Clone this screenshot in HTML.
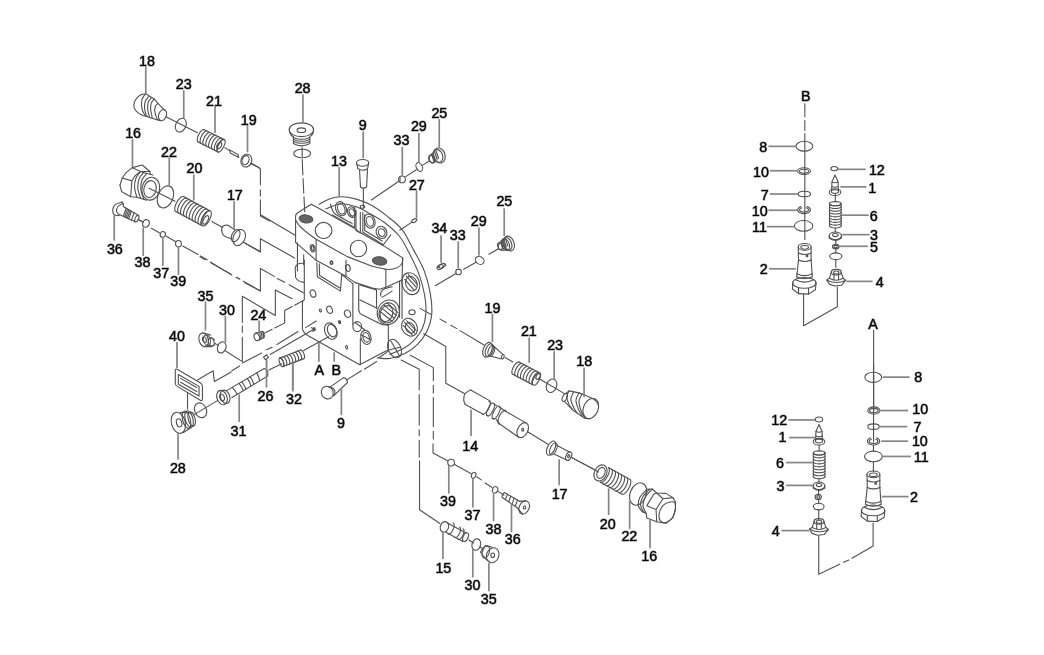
<!DOCTYPE html>
<html><head><meta charset="utf-8"><title>Exploded view</title>
<style>
html,body{margin:0;padding:0;background:#fff;overflow:hidden}
svg{display:block}
.d{fill:none;stroke:#505050;stroke-width:1.1;stroke-linecap:round;stroke-linejoin:round}
.l{fill:none;stroke:#858585;stroke-width:1.7;stroke-linecap:butt}
.t{font-family:"Liberation Sans",sans-serif;font-size:14.3px;fill:#000;stroke:#000;stroke-opacity:0.5;stroke-width:1.1;stroke-linejoin:round;text-anchor:middle}
</style></head>
<body>
<svg width="1044" height="655" viewBox="0 0 1044 655">
<defs><filter id="n" x="0" y="0" width="1044" height="655" filterUnits="userSpaceOnUse"><feGaussianBlur stdDeviation="0.3"/></filter></defs>
<rect width="1044" height="655" fill="#fff"/>
<g class="d">
<path d="M 145.69 93.81 C 144.79 94.0 141.99 94.0 140.33 94.96 C 138.66 95.92 136.82 97.9 135.73 99.56 C 134.64 101.22 133.94 103.26 133.81 104.92 C 133.68 106.59 134.13 108.12 134.96 109.52 C 135.79 110.92 137.39 112.33 138.79 113.35 C 140.2 114.37 142.24 115.21 143.39 115.65 C 144.54 116.1 145.31 115.97 145.69 116.03"/>
<path d="M 145.69 93.81 C 145.11 94.64 142.95 96.94 142.24 98.79 C 141.54 100.65 141.34 102.75 141.48 104.92 C 141.61 107.09 142.3 109.97 143.01 111.82 C 143.71 113.67 145.25 115.33 145.69 116.03"/>
<path d="M 145.69 93.81 L 154.5 99.18 L 157.95 103.39 L 164.85 110.29 M 145.69 116.03 L 151.82 118.33 L 160.25 120.63"/>
<path d="M 154.5 99.18 C 153.99 99.75 152.07 100.9 151.44 102.62 C 150.8 104.35 150.61 107.35 150.67 109.52 C 150.73 111.69 151.57 114.18 151.82 115.65 C 152.07 117.12 152.14 117.89 152.2 118.33"/>
<path d="M 148.75 96.49 C 148.18 97.26 146.01 99.18 145.31 101.09 C 144.6 103.01 144.41 105.69 144.54 107.99 C 144.67 110.29 145.63 113.45 146.07 114.89 C 146.52 116.32 147.03 116.29 147.22 116.57"/>
<path d="M 151.44 97.64 C 150.92 98.35 149.01 100.0 148.37 101.86 C 147.74 103.71 147.48 106.46 147.61 108.75 C 147.74 111.05 148.75 114.18 149.14 115.65 C 149.52 117.12 149.77 117.25 149.9 117.57"/>
<path d="M 157.95 103.39 C 157.51 103.9 155.78 105.05 155.27 106.46 C 154.75 107.86 154.69 110.03 154.89 111.82 C 155.08 113.61 155.97 115.84 156.42 117.18 C 156.86 118.52 157.38 119.42 157.57 119.87"/>
<ellipse cx="162.55" cy="115.11" rx="3.83" ry="5.75" transform="rotate(20 162.55 115.11)"/>
<path d="M 165.98 116.72 L 197.39 132.66"/>
<ellipse cx="180.84" cy="125.15" rx="5.06" ry="7.2" transform="rotate(25 180.84 125.15)"/>
<path d="M 119.96 185.27 L 122.26 177.99 L 126.09 172.62 L 132.22 167.64 L 142.18 164.96 L 149.85 171.48 L 150.23 174.16"/>
<path d="M 119.96 185.27 L 121.49 191.02 L 123.03 192.55 L 130.69 196.76 L 136.82 197.3 L 146.78 200.21"/>
<path d="M 122.26 177.99 L 131.84 180.9 L 130.69 196.76 M 131.84 180.9 Q 135.29 174.16 140.65 171.48 L 132.22 167.64 M 140.65 171.48 L 149.85 171.48"/>
<path d="M 140.65 171.48 C 139.89 172.56 137.07 175.37 136.05 177.99 C 135.03 180.61 134.39 183.99 134.52 187.18 C 134.65 190.38 136.44 195.48 136.82 197.15"/>
<path d="M 143.72 172.24 C 142.95 173.33 140.11 176.13 139.12 178.75 C 138.12 181.38 137.49 184.69 137.74 187.95 C 137.99 191.21 140.17 196.57 140.65 198.3"/>
<path d="M 146.78 173.39 C 146.02 174.41 143.18 176.97 142.18 179.52 C 141.19 182.07 140.55 185.42 140.8 188.72 C 141.06 192.01 143.23 197.53 143.72 199.29"/>
<path d="M 142.18 172.24 L 152.91 175.08"/>
<ellipse cx="150.77" cy="188.72" rx="8.81" ry="11.49" transform="rotate(12 150.77 188.72)"/>
<ellipse cx="150.0" cy="189.1" rx="6.13" ry="8.58" transform="rotate(12 150.0 189.1)"/>
<path d="M 149.04 188.2 L 175.1 201.23"/>
<ellipse cx="165.44" cy="196.93" rx="7.66" ry="11.49" transform="rotate(22 165.44 196.93)"/>
<path d="M 175.68 211.4 L 174.96 210.54 L 174.7 209.04 L 174.94 207.05 L 175.63 204.75 L 176.74 202.38 L 178.11 200.17 L 179.65 198.33 L 181.2 197.04 L 182.59 196.44 L 183.71 196.57"/>
<path d="M 178.57 212.97 L 177.85 212.11 L 177.59 210.61 L 177.82 208.61 L 178.53 206.31 L 179.62 203.95 L 181.01 201.73 L 182.54 199.89 L 184.09 198.61 L 185.49 198.01 L 186.61 198.15"/>
<path d="M 181.47 214.53 L 180.75 213.67 L 180.49 212.17 L 180.72 210.18 L 181.43 207.88 L 182.51 205.52 L 183.91 203.3 L 185.44 201.46 L 186.99 200.18 L 188.38 199.57 L 189.5 199.71"/>
<path d="M 184.37 216.09 L 183.65 215.23 L 183.39 213.73 L 183.62 211.74 L 184.32 209.46 L 185.41 207.08 L 186.8 204.87 L 188.34 203.03 L 189.89 201.75 L 191.28 201.13 L 192.38 201.27"/>
<path d="M 187.26 217.67 L 186.54 216.81 L 186.28 215.31 L 186.51 213.3 L 187.22 211.02 L 188.31 208.64 L 189.69 206.44 L 191.23 204.6 L 192.78 203.31 L 194.18 202.7 L 195.28 202.84"/>
<path d="M 190.16 219.23 L 189.44 218.38 L 189.18 216.87 L 189.41 214.88 L 190.11 212.58 L 191.2 210.21 L 192.58 208.0 L 194.13 206.16 L 195.66 204.87 L 197.07 204.28 L 198.18 204.4"/>
<path d="M 193.06 220.8 L 192.34 219.94 L 192.08 218.44 L 192.31 216.44 L 193.0 214.15 L 194.1 211.79 L 195.48 209.56 L 197.03 207.72 L 198.56 206.44 L 199.97 205.84 L 201.07 205.98"/>
<path d="M 195.94 222.36 L 195.22 221.5 L 194.97 220.0 L 195.2 218.01 L 195.89 215.71 L 197.0 213.35 L 198.38 211.13 L 199.92 209.3 L 201.46 208.02 L 202.85 207.4 L 203.97 207.54"/>
<path d="M 198.84 223.92 L 198.11 223.07 L 197.87 221.58 L 198.1 219.57 L 198.79 217.29 L 199.89 214.91 L 201.27 212.7 L 202.8 210.87 L 204.35 209.58 L 205.75 208.97 L 206.87 209.1"/>
<path d="M 201.73 225.5 L 201.01 224.64 L 200.75 223.14 L 201.0 221.15 L 201.69 218.85 L 202.79 216.48 L 204.17 214.27 L 205.7 212.43 L 207.25 211.14 L 208.64 210.54 L 209.76 210.67"/>
<path d="M 175.68 211.4 L 201.74 225.5"/>
<path d="M 183.71 196.57 L 209.76 210.67"/>
<ellipse cx="206.51" cy="218.39" rx="3.37" ry="8.43" transform="rotate(27 206.51 218.39)"/>
<ellipse cx="205.75" cy="219.92" rx="2.15" ry="4.6" transform="rotate(27 205.75 219.92)"/>
<path d="M 198.07 141.95 L 197.46 141.27 L 197.21 140.05 L 197.33 138.41 L 197.85 136.52 L 198.68 134.56 L 199.75 132.7 L 200.97 131.16 L 202.19 130.07 L 203.33 129.53 L 204.23 129.62"/>
<path d="M 200.9 143.37 L 200.31 142.7 L 200.05 141.47 L 200.18 139.83 L 200.69 137.95 L 201.53 135.97 L 202.61 134.13 L 203.82 132.58 L 205.04 131.49 L 206.16 130.96 L 207.08 131.03"/>
<path d="M 203.75 144.8 L 203.14 144.12 L 202.9 142.9 L 203.03 141.26 L 203.54 139.37 L 204.37 137.39 L 205.44 135.56 L 206.65 134.01 L 207.89 132.92 L 209.01 132.38 L 209.93 132.46"/>
<path d="M 206.61 146.22 L 205.99 145.53 L 205.75 144.32 L 205.89 142.68 L 206.39 140.78 L 207.22 138.82 L 208.29 136.98 L 209.5 135.43 L 210.73 134.34 L 211.86 133.81 L 212.77 133.89"/>
<path d="M 209.46 147.65 L 208.84 146.96 L 208.58 145.75 L 208.72 144.11 L 209.24 142.21 L 210.07 140.25 L 211.14 138.39 L 212.35 136.86 L 213.58 135.75 L 214.71 135.23 L 215.62 135.31"/>
<path d="M 212.29 149.07 L 211.68 148.38 L 211.43 147.17 L 211.57 145.53 L 212.08 143.63 L 212.92 141.67 L 213.99 139.82 L 215.2 138.28 L 216.43 137.18 L 217.55 136.66 L 218.47 136.74"/>
<path d="M 215.14 150.5 L 214.53 149.81 L 214.28 148.58 L 214.42 146.96 L 214.93 145.06 L 215.75 143.1 L 216.83 141.24 L 218.04 139.69 L 219.26 138.61 L 220.4 138.07 L 221.32 138.16"/>
<path d="M 217.99 151.91 L 217.38 151.23 L 217.13 150.01 L 217.26 148.37 L 217.78 146.48 L 218.61 144.52 L 219.68 142.67 L 220.89 141.12 L 222.11 140.03 L 223.25 139.49 L 224.15 139.59"/>
<path d="M 198.07 141.95 L 217.99 151.92"/>
<path d="M 204.23 129.62 L 224.16 139.58"/>
<ellipse cx="221.07" cy="145.75" rx="2.76" ry="6.9" transform="rotate(27 221.07 145.75)"/>
<ellipse cx="219.23" cy="145.44" rx="2.15" ry="3.37" transform="rotate(27 219.23 145.44)"/>
<path d="M 229.5 149.89 L 237.93 154.48 L 238.7 157.55 L 230.27 152.95 Z"/>
<path d="M 224.9 147.59 L 229.5 150.65"/>
<ellipse cx="246.36" cy="160.61" rx="5.36" ry="6.44" transform="rotate(20 246.36 160.61)"/>
<ellipse cx="245.59" cy="160.15" rx="3.37" ry="4.6" transform="rotate(20 245.59 160.15)"/>
<path d="M 250.96 163.68 L 260.0 168.28"/>
<path d="M 121.86 201.9 C 120.71 202.41 116.49 203.56 114.96 204.96 C 113.43 206.36 112.79 208.73 112.66 210.33 C 112.53 211.92 113.3 213.64 114.2 214.54 C 115.09 215.44 117.39 215.5 118.03 215.69"/>
<path d="M 123.01 203.43 C 122.18 203.94 119.11 205.21 118.03 206.49 C 116.94 207.77 116.3 209.62 116.49 211.09 C 116.69 212.56 118.73 214.6 119.18 215.31"/>
<path d="M 121.86 201.9 Q 123.77 202.66 123.24 206.49 L 138.33 215.31 M 118.03 215.69 L 119.18 214.54 L 135.27 221.82"/>
<ellipse cx="136.8" cy="218.6" rx="1.69" ry="3.45" transform="rotate(25 136.8 218.6)"/>
<path d="M 126.07 208.18 L 123.39 216.46 M 128.75 209.71 L 126.07 217.68 M 131.44 211.25 L 128.75 218.91 M 134.12 212.78 L 131.44 220.13 M 127.38 208.95 L 124.77 217.07 M 130.13 210.48 L 127.38 218.3"/>
<path d="M 138.33 219.52 L 143.31 222.2"/>
<ellipse cx="145.98" cy="223.45" rx="3.22" ry="3.83" transform="rotate(20 145.98 223.45)"/>
<ellipse cx="162.84" cy="234.48" rx="2.61" ry="2.91" transform="rotate(20 162.84 234.48)"/>
<ellipse cx="178.47" cy="243.68" rx="2.91" ry="3.22"/>
<path d="M 138.31 219.62 L 142.15 221.76 M 151.34 228.35 L 159.77 232.95 M 165.9 236.02 L 175.86 241.69 M 182.76 245.98 L 198.08 254.41 M 200.38 255.94 L 207.28 259.77 M 210.34 262.07 L 231.8 275.1 M 236.4 277.39 L 239.46 278.93 M 243.3 281.23 L 260.0 290.73"/>
<path d="M 211.88 221.46 L 222.61 227.59"/>
<path d="M 222.61 226.82 Q 224.14 224.52 227.97 225.29 L 234.87 229.89 M 221.84 230.65 Q 221.84 234.48 225.67 236.78 L 231.8 239.08"/>
<path d="M 222.61 226.82 Q 221.07 229.12 221.84 230.65"/>
<ellipse cx="239.16" cy="237.55" rx="5.82" ry="8.43" transform="rotate(25 239.16 237.55)"/>
<ellipse cx="235.63" cy="235.56" rx="3.83" ry="6.44" transform="rotate(25 235.63 235.56)"/>
<path d="M 244.83 242.91 L 260.0 251.34"/>
<ellipse cx="301.38" cy="129.73" rx="12.26" ry="6.9"/>
<ellipse cx="301.38" cy="130.19" rx="4.29" ry="2.3"/>
<path d="M 289.89 132.03 Q 290.65 135.86 293.41 136.63 L 293.41 143.52 Q 301.38 148.12 309.81 143.52 L 309.81 136.63 Q 312.87 135.1 313.33 131.72"/>
<path d="M 293.41 137.39 Q 301.38 141.23 309.81 137.39 M 293.41 139.39 Q 301.38 143.22 309.81 139.39 M 293.41 141.38 Q 301.38 145.21 309.81 141.38"/>
<ellipse cx="302.15" cy="153.49" rx="8.43" ry="4.29"/>
<ellipse cx="362.61" cy="162.84" rx="6.13" ry="3.37"/>
<path d="M 356.48 163.14 L 358.01 168.66 M 368.74 163.14 L 367.51 168.66"/>
<path d="M 358.01 168.66 Q 362.61 171.72 367.51 168.66 M 359.54 169.73 L 360.46 187.05 M 367.51 169.73 L 366.59 187.05 M 360.46 187.05 Q 363.37 189.2 366.59 187.05"/>
<path d="M 363.37 188.89 L 363.37 207.28"/>
<ellipse cx="401.99" cy="179.39" rx="3.37" ry="3.37"/>
<path d="M 400.0 177.39 L 400.0 181.23"/>
<ellipse cx="419.31" cy="166.97" rx="3.07" ry="4.6" transform="rotate(-25 419.31 166.97)"/>
<ellipse cx="439.23" cy="155.48" rx="5.82" ry="7.66" transform="rotate(-20 439.23 155.48)"/>
<ellipse cx="438.01" cy="155.94" rx="4.6" ry="6.44" transform="rotate(-20 438.01 155.94)"/>
<path d="M 434.18 152.11 L 430.34 155.17 Q 428.05 158.24 429.58 161.3 L 432.64 163.14 L 436.48 161.3"/>
<ellipse cx="431.57" cy="159.0" rx="2.45" ry="3.98" transform="rotate(-20 431.57 159.0)"/>
<path d="M 433.1 152.87 L 435.25 160.08 M 434.64 151.8 L 437.09 159.46 M 436.02 151.03 L 438.62 158.54 M 431.57 153.95 L 433.72 161.0"/>
<path d="M 371.34 199.92 L 398.47 181.53 M 405.82 176.63 L 416.25 169.73 M 422.68 165.13 L 429.58 160.84"/>
<ellipse cx="414.25" cy="220.61" rx="2.76" ry="1.53" transform="rotate(-30 414.25 220.61)"/>
<path d="M 411.95 222.15 L 399.69 230.27"/>
<path d="M 295.58 242.3 L 295.58 216.15 Q 295.58 214.28 297.45 213.04 L 311.15 204.32 L 317.38 207.43 L 354.73 228.6 L 359.71 232.34 L 383.37 245.66 L 402.67 257.86"/>
<path d="M 402.67 257.86 Q 403.54 264.71 397.07 267.83 Q 390.84 270.32 384.62 269.07"/>
<path d="M 295.96 220.51 Q 298.7 227.36 316.13 239.19 L 347.26 256.62 L 372.16 266.21 L 384.62 269.07"/>
<ellipse cx="323.6" cy="230.47" rx="8.34" ry="8.09"/>
<ellipse cx="358.47" cy="248.52" rx="8.22" ry="8.22"/>
<ellipse cx="305.92" cy="218.89" rx="6.85" ry="3.98" fill="#666" transform="rotate(8 305.92 218.89)"/>
<ellipse cx="379.64" cy="260.98" rx="7.22" ry="4.11" fill="#666" transform="rotate(8 379.64 260.98)"/>
<path d="M 319.06 204.34 C 320.68 203.49 325.16 200.44 328.83 199.15 C 332.49 197.87 336.46 196.71 341.03 196.71 C 345.61 196.71 351.19 197.72 356.29 199.15 C 361.39 200.59 366.45 202.45 371.55 205.26 C 376.65 208.07 381.71 211.88 386.81 215.94 C 391.9 220.0 397.58 223.96 402.07 229.67 C 406.55 235.38 409.94 243.19 413.66 250.12 C 417.38 257.04 421.54 263.79 424.34 271.17 C 427.15 278.56 429.23 287.04 430.45 294.37 C 431.67 301.69 432.22 309.01 431.67 315.12 C 431.12 321.22 429.47 326.04 427.09 330.99 C 424.71 335.93 421.05 340.96 417.32 344.72 C 413.6 348.47 409.39 351.28 404.81 353.57 C 400.23 355.86 394.44 357.75 389.86 358.45 C 385.28 359.15 379.42 357.93 377.35 357.84"/>
<path d="M 325.77 208.92 C 328.31 208.07 335.94 204.1 341.03 203.73 C 346.13 203.37 351.71 205.26 356.29 206.78 C 360.87 208.31 363.92 210.35 368.5 212.89 C 373.08 215.42 378.66 218.23 383.76 222.04 C 388.85 225.86 394.68 230.43 399.01 235.77 C 403.35 241.12 406.4 247.74 409.69 254.08 C 412.99 260.43 416.35 267.05 418.85 273.92 C 421.35 280.79 423.49 288.66 424.65 295.28 C 425.81 301.9 426.27 308.01 425.87 313.59 C 425.47 319.18 424.4 324.18 422.21 328.85 C 420.01 333.52 416.1 338.25 412.75 341.67 C 409.39 345.08 405.88 347.22 402.07 349.3 C 398.25 351.37 391.9 353.35 389.86 354.18"/>
<path d="M 332.32 214.9 L 354.73 227.36 L 354.73 206.81"/>
<path d="M 330.45 204.32 C 330.97 205.66 332.01 210.33 333.56 212.41 C 335.12 214.49 336.68 214.9 339.79 216.77 C 342.9 218.64 350.16 222.48 352.24 223.62"/>
<ellipse cx="341.03" cy="208.68" rx="5.23" ry="7.22" transform="rotate(-20 341.03 208.68)"/>
<ellipse cx="341.28" cy="208.93" rx="3.49" ry="5.23" transform="rotate(-20 341.28 208.93)"/>
<ellipse cx="351.62" cy="212.16" rx="3.98" ry="5.48" transform="rotate(-20 351.62 212.16)"/>
<ellipse cx="351.87" cy="212.41" rx="2.49" ry="3.74" transform="rotate(-20 351.87 212.41)"/>
<path d="M 355.98 210.55 L 355.98 230.47 L 360.34 232.96 L 360.34 212.41"/>
<path d="M 362.83 212.41 L 362.83 232.34 L 383.37 244.79 L 390.84 234.83"/>
<path d="M 364.69 214.9 L 364.69 230.47 L 382.13 241.05"/>
<ellipse cx="369.67" cy="221.13" rx="5.23" ry="7.22" transform="rotate(-20 369.67 221.13)"/>
<ellipse cx="369.92" cy="221.38" rx="3.49" ry="4.98" transform="rotate(-20 369.92 221.38)"/>
<ellipse cx="381.5" cy="232.34" rx="5.23" ry="6.23" transform="rotate(-20 381.5 232.34)"/>
<ellipse cx="381.75" cy="232.59" rx="3.24" ry="3.98" transform="rotate(-20 381.75 232.59)"/>
<ellipse cx="362.45" cy="206.81" rx="2.24" ry="1.49"/>
<path d="M 295.58 242.3 L 316.13 260.35 L 346.02 276.17 L 354.73 282.39 L 372.16 288.0 L 379.64 289.24 L 387.11 286.75 L 402.05 279.9"/>
<path d="M 316.13 239.19 L 316.13 260.35 M 385.86 269.32 L 385.86 286.75 M 402.67 257.86 L 402.05 279.9"/>
<ellipse cx="312.64" cy="248.28" rx="2.24" ry="3.74" transform="rotate(-15 312.64 248.28)"/>
<ellipse cx="312.64" cy="248.28" rx="1.12" ry="2.24" transform="rotate(-15 312.64 248.28)"/>
<path d="M 297.45 242.92 L 297.45 270.94 M 303.68 254.75 L 303.68 264.71"/>
<ellipse cx="331.32" cy="262.84" rx="1.25" ry="1.74" transform="rotate(-15 331.32 262.84)"/>
<path d="M 304.3 263.74 Q 297.45 261.87 295.21 267.47 L 295.58 277.43 Q 298.7 282.16 304.3 282.41"/>
<path d="M 304.3 260.0 L 304.3 299.85 L 302.43 301.71 L 302.43 328.61 Q 303.06 332.84 308.66 336.08 L 359.71 364.72 L 388.35 349.78"/>
<path d="M 297.45 260.0 L 297.45 262.49"/>
<path d="M 316.75 262.49 L 317.38 276.81 L 340.41 291.13 L 341.66 274.69"/>
<path d="M 319.24 263.74 L 319.62 275.57 L 339.79 288.02"/>
<ellipse cx="313.02" cy="293.62" rx="2.74" ry="3.74" transform="rotate(-20 313.02 293.62)"/>
<ellipse cx="329.58" cy="309.81" rx="2.74" ry="3.74" transform="rotate(-20 329.58 309.81)"/>
<ellipse cx="347.51" cy="313.79" rx="2.99" ry="3.74" transform="rotate(-20 347.51 313.79)"/>
<ellipse cx="320.49" cy="310.43" rx="1.0" ry="1.49" transform="rotate(-20 320.49 310.43)"/>
<ellipse cx="339.79" cy="322.26" rx="0.87" ry="1.25" transform="rotate(-20 339.79 322.26)"/>
<ellipse cx="314.26" cy="329.11" rx="1.0" ry="1.49" transform="rotate(-20 314.26 329.11)"/>
<ellipse cx="331.7" cy="262.49" rx="1.12" ry="1.62" transform="rotate(-20 331.7 262.49)"/>
<ellipse cx="347.88" cy="268.09" rx="2.24" ry="3.49" transform="rotate(-15 347.88 268.09)"/>
<ellipse cx="330.82" cy="331.1" rx="5.98" ry="8.47" transform="rotate(-22 330.82 331.1)"/>
<ellipse cx="332.07" cy="330.6" rx="4.36" ry="6.48" transform="rotate(-22 332.07 330.6)"/>
<ellipse cx="339.42" cy="322.01" rx="0.87" ry="1.25" transform="rotate(-20 339.42 322.01)"/>
<ellipse cx="346.64" cy="347.29" rx="1.0" ry="1.74" transform="rotate(-20 346.64 347.29)"/>
<path d="M 352.86 283.66 L 352.86 324.75 M 358.72 284.9 L 358.72 309.81 Q 359.09 313.54 362.2 314.79 L 377.15 322.26"/>
<path d="M 346.02 260.0 L 346.02 276.19 M 341.66 274.69 L 352.86 283.66"/>
<path d="M 359.71 284.9 L 376.52 289.89 L 376.52 308.56 M 359.71 299.85 L 376.52 307.94"/>
<path d="M 360.34 338.57 L 360.34 364.72 M 388.35 324.75 L 388.35 349.78"/>
<ellipse cx="388.35" cy="312.3" rx="10.96" ry="12.45" transform="rotate(20 388.35 312.3)"/>
<ellipse cx="387.73" cy="312.92" rx="8.47" ry="10.21" transform="rotate(20 387.73 312.92)"/>
<ellipse cx="386.48" cy="313.54" rx="6.23" ry="8.09" transform="rotate(20 386.48 313.54)"/>
<path d="M 377.15 322.26 Q 383.37 326.0 388.35 324.75"/>
<path d="M 381.5 307.94 L 394.58 318.52 M 383.99 305.08 L 396.45 315.41 M 380.26 311.68 L 392.09 321.26 M 387.11 302.96 L 397.69 312.3"/>
<ellipse cx="410.77" cy="283.66" rx="8.72" ry="11.21" transform="rotate(-20 410.77 283.66)"/>
<ellipse cx="411.39" cy="283.66" rx="5.6" ry="7.47" transform="rotate(-20 411.39 283.66)"/>
<path d="M 402.05 279.92 L 402.05 318.52 M 399.56 281.17 L 399.56 317.28"/>
<path d="M 380.88 296.11 Q 379.64 291.13 384.62 288.64 L 392.09 286.77 M 382.13 297.36 L 392.09 291.13"/>
<ellipse cx="357.22" cy="326.62" rx="4.36" ry="4.98"/>
<path d="M 354.73 322.26 L 364.69 329.73 M 360.96 334.71 L 370.92 339.69"/>
<ellipse cx="365.94" cy="337.33" rx="4.98" ry="7.22" transform="rotate(-15 365.94 337.33)"/>
<ellipse cx="366.19" cy="337.33" rx="3.11" ry="4.98" transform="rotate(-15 366.19 337.33)"/>
<ellipse cx="409.52" cy="327.24" rx="7.47" ry="9.34" transform="rotate(-30 409.52 327.24)"/>
<ellipse cx="410.14" cy="327.86" rx="4.36" ry="5.6" transform="rotate(-30 410.14 327.86)"/>
<path d="M 404.54 322.26 L 414.5 332.84 M 406.78 320.77 L 416.0 330.35 M 403.3 325.37 L 412.01 334.71"/>
<path d="M 406.41 276.19 L 415.75 286.77 M 408.28 274.32 L 417.24 284.28 M 404.79 279.3 L 413.88 289.89"/>
<ellipse cx="412.01" cy="312.3" rx="3.11" ry="2.49"/>
<ellipse cx="394.58" cy="348.53" rx="6.23" ry="9.71" transform="rotate(-25 394.58 348.53)"/>
<path d="M 390.84 341.06 L 399.56 356.01 M 389.6 349.78 L 400.18 347.29"/>
<path d="M 328.58 336.77 L 303.68 350.47"/>
<path d="M 279.86 358.0 L 280.47 358.0 L 281.18 358.43 L 281.92 359.24 L 282.63 360.34 L 283.23 361.64 L 283.66 363.0 L 283.88 364.29 L 283.87 365.39 L 283.62 366.18 L 283.17 366.59"/>
<path d="M 282.81 356.86 L 283.42 356.87 L 284.14 357.29 L 284.89 358.1 L 285.59 359.2 L 286.18 360.49 L 286.62 361.86 L 286.83 363.15 L 286.82 364.25 L 286.57 365.04 L 286.12 365.46"/>
<path d="M 285.76 355.72 L 286.37 355.72 L 287.09 356.16 L 287.84 356.96 L 288.54 358.07 L 289.13 359.36 L 289.57 360.72 L 289.78 362.01 L 289.77 363.11 L 289.53 363.91 L 289.07 364.32"/>
<path d="M 288.71 354.58 L 289.33 354.59 L 290.04 355.01 L 290.79 355.82 L 291.5 356.92 L 292.1 358.21 L 292.52 359.58 L 292.73 360.88 L 292.72 361.98 L 292.48 362.77 L 292.04 363.18"/>
<path d="M 291.66 353.45 L 292.28 353.45 L 292.99 353.88 L 293.74 354.68 L 294.45 355.79 L 295.05 357.08 L 295.47 358.44 L 295.7 359.73 L 295.67 360.83 L 295.43 361.63 L 294.99 362.05"/>
<path d="M 294.63 352.31 L 295.24 352.31 L 295.95 352.74 L 296.69 353.55 L 297.4 354.65 L 298.0 355.95 L 298.42 357.31 L 298.65 358.6 L 298.64 359.7 L 298.39 360.49 L 297.94 360.9"/>
<path d="M 297.58 351.17 L 298.19 351.18 L 298.9 351.6 L 299.64 352.4 L 300.35 353.51 L 300.95 354.8 L 301.37 356.16 L 301.6 357.45 L 301.59 358.55 L 301.34 359.35 L 300.89 359.77"/>
<path d="M 300.53 350.03 L 301.14 350.03 L 301.85 350.46 L 302.59 351.27 L 303.3 352.37 L 303.9 353.67 L 304.33 355.03 L 304.55 356.32 L 304.54 357.42 L 304.29 358.21 L 303.84 358.63"/>
<path d="M 283.17 366.6 L 303.84 358.63"/>
<path d="M 279.86 358.0 L 300.53 350.03"/>
<ellipse cx="281.51" cy="362.3" rx="1.87" ry="4.61" transform="rotate(-21 281.51 362.3)"/>
<path d="M 379.64 357.32 L 388.35 351.09"/>
<ellipse cx="442.15" cy="265.79" rx="3.37" ry="1.99" transform="rotate(-30 442.15 265.79)"/>
<path d="M 439.08 266.55 L 437.55 268.08 M 444.44 263.79 L 445.98 265.33"/>
<ellipse cx="440.15" cy="267.01" rx="3.37" ry="1.99" transform="rotate(-30 440.15 267.01)"/>
<ellipse cx="479.69" cy="260.42" rx="4.6" ry="3.68" transform="rotate(30 479.69 260.42)"/>
<ellipse cx="509.12" cy="243.56" rx="4.9" ry="7.66" transform="rotate(-20 509.12 243.56)"/>
<ellipse cx="507.28" cy="244.02" rx="4.29" ry="6.74" transform="rotate(-20 507.28 244.02)"/>
<ellipse cx="505.44" cy="244.64" rx="3.83" ry="6.13" transform="rotate(-20 505.44 244.64)"/>
<path d="M 504.21 238.97 L 500.38 242.03 Q 497.32 245.1 498.85 248.93 L 501.92 250.46 L 505.75 249.69"/>
<ellipse cx="499.92" cy="246.17" rx="2.15" ry="3.68" transform="rotate(-20 499.92 246.17)"/>
<path d="M 502.38 240.5 L 504.52 247.85 M 503.91 239.58 L 506.36 246.93 M 505.44 238.66 L 507.89 246.02 M 500.84 241.42 L 502.99 248.77"/>
<path d="M 498.08 248.93 L 488.89 254.29 M 476.63 261.95 L 463.6 269.31"/>
<ellipse cx="458.54" cy="271.92" rx="2.76" ry="2.76"/>
<path d="M 455.94 273.45 L 435.25 285.71"/>
<path d="M 251.05 163.04 L 258.52 167.39 L 260.39 169.26 L 260.39 184.83 M 260.39 189.81 L 260.39 196.03 M 260.39 199.77 L 260.39 215.96 L 269.73 220.94"/>
<path d="M 302.11 147.47 L 302.23 156.81 M 302.23 159.55 L 302.85 174.87 M 303.1 178.48 L 303.73 193.3 M 303.98 196.91 L 304.72 211.6"/>
<path d="M 261.02 215.0 L 294.64 234.92"/>
<path d="M 243.58 242.39 L 260.39 252.11 L 260.39 238.66 L 294.64 257.96"/>
<path d="M 200.0 256.71 L 204.98 259.83 M 211.21 262.94 L 231.13 274.15 M 236.11 277.26 L 239.85 279.13 M 244.83 282.86 L 260.39 290.96 L 260.39 268.54 L 274.71 276.64 M 277.2 278.51 L 284.67 282.24 M 289.03 284.73 L 303.35 292.83"/>
<path d="M 225.53 351.02 L 242.34 361.6 M 242.34 361.6 L 242.34 337.32 M 242.34 332.34 L 242.34 326.11 M 242.34 322.38 L 242.34 296.23 L 275.34 315.53 L 275.34 290.0"/>
<path d="M 275.34 290.0 L 292.15 298.72"/>
<path d="M 264.75 332.96 L 272.22 329.22 M 274.71 327.98 L 283.43 323.62 L 284.67 323.0 L 284.67 310.55 L 292.15 306.56 M 294.64 305.19 L 303.35 300.58"/>
<path d="M 231.92 370.77 L 239.58 365.98 M 242.45 363.1 L 261.61 353.05 M 266.4 349.69 L 272.15 347.3 M 276.93 344.43 L 298.01 331.49 M 305.67 327.66 L 316.21 320.96"/>
<path d="M 270.23 354.48 L 314.29 329.1 M 311.42 327.66 L 314.77 329.1 L 312.85 331.49"/>
<path d="M 263.51 357.24 L 266.62 354.75 L 268.49 357.24 L 265.37 359.73 Z"/>
<path d="M 266.62 359.73 L 266.62 372.18"/>
<ellipse cx="203.64" cy="339.73" rx="4.6" ry="6.9" transform="rotate(-15 203.64 339.73)"/>
<ellipse cx="207.01" cy="340.19" rx="3.37" ry="5.36" transform="rotate(-15 207.01 340.19)"/>
<ellipse cx="211.3" cy="342.03" rx="2.76" ry="4.29" transform="rotate(-15 211.3 342.03)"/>
<path d="M 202.87 332.84 L 210.54 335.13 M 203.64 346.63 L 211.3 346.63 M 211.3 337.74 L 214.37 339.73 M 211.3 346.32 L 214.37 345.1"/>
<ellipse cx="204.41" cy="339.73" rx="1.84" ry="3.07" transform="rotate(-15 204.41 339.73)"/>
<path d="M 215.13 343.56 L 218.2 345.4"/>
<ellipse cx="221.72" cy="347.39" rx="4.14" ry="5.82" transform="rotate(20 221.72 347.39)"/>
<ellipse cx="256.82" cy="336.97" rx="2.61" ry="3.83" transform="rotate(-20 256.82 336.97)"/>
<path d="M 255.75 333.14 L 262.64 331.3 Q 264.94 333.6 264.18 337.43 L 258.05 340.5 M 259.58 332.07 L 260.65 339.27 M 261.11 331.61 L 262.18 338.66 M 262.64 331.3 L 263.72 338.05"/>
<path d="M 175.29 370.73 Q 175.29 368.43 177.59 369.5 L 200.57 382.99 Q 202.41 384.21 202.41 386.36 L 202.41 399.08 Q 202.41 401.38 200.27 400.15 L 177.28 386.36 Q 175.29 385.29 175.29 382.99 Z"/>
<path d="M 178.35 374.56 L 199.04 386.36 L 199.04 396.02 L 178.35 384.21 Z"/>
<path d="M 180.65 378.39 L 196.74 387.59 M 180.65 382.22 L 196.74 391.42"/>
<path d="M 197.51 379.92 L 213.14 370.73 L 214.37 381.46 L 231.23 371.95"/>
<path d="M 187.55 392.95 L 187.55 409.04"/>
<ellipse cx="178.35" cy="422.84" rx="6.9" ry="10.73" transform="rotate(-15 178.35 422.84)"/>
<ellipse cx="179.12" cy="422.84" rx="2.61" ry="4.14" transform="rotate(-15 179.12 422.84)"/>
<path d="M 180.65 412.41 L 192.91 412.87 M 182.95 432.8 L 191.38 427.43"/>
<ellipse cx="189.08" cy="419.0" rx="3.83" ry="8.43" transform="rotate(-15 189.08 419.0)"/>
<ellipse cx="191.69" cy="419.0" rx="3.37" ry="7.36" transform="rotate(-15 191.69 419.0)"/>
<ellipse cx="186.48" cy="419.77" rx="3.83" ry="8.89" transform="rotate(-15 186.48 419.77)"/>
<ellipse cx="200.57" cy="410.27" rx="5.82" ry="7.66" transform="rotate(-25 200.57 410.27)"/>
<path d="M 193.68 414.87 L 217.43 400.61"/>
<ellipse cx="222.03" cy="397.55" rx="5.06" ry="7.36" transform="rotate(-20 222.03 397.55)"/>
<ellipse cx="222.03" cy="397.55" rx="2.3" ry="3.37" transform="rotate(-20 222.03 397.55)"/>
<ellipse cx="225.1" cy="396.78" rx="4.6" ry="6.9" transform="rotate(-20 225.1 396.78)"/>
<path d="M 226.63 390.65 L 264.18 368.43 Q 268.77 369.96 267.7 376.09 L 231.99 397.55"/>
<path d="M 232.3 387.28 Q 235.98 391.42 237.2 394.33 M 239.04 383.3 Q 242.41 387.59 243.33 390.65 M 241.65 381.76 Q 245.02 386.05 245.79 389.12 M 247.32 378.39 Q 250.38 382.84 251.0 386.05 M 250.23 376.7 Q 253.3 381.15 253.75 384.37 M 256.67 372.87 Q 259.43 377.47 259.58 380.69"/>
<path d="M 268.77 369.96 L 281.8 363.83"/>
<ellipse cx="327.28" cy="392.61" rx="5.82" ry="6.44" transform="rotate(-30 327.28 392.61)"/>
<path d="M 329.89 387.09 L 343.68 377.59 Q 347.2 378.35 347.51 382.49 L 334.02 395.36"/>
<path d="M 332.95 395.98 Q 336.02 394.44 334.48 390.15 Q 332.95 386.78 329.12 387.24"/>
<path d="M 346.74 379.89 L 361.3 370.69 M 364.37 369.16 L 376.63 361.49"/>
<path d="M 401.15 359.96 L 419.23 369.16 L 419.23 389.85 M 419.23 394.44 L 419.23 425.1 M 419.23 429.69 L 419.23 435.82 M 419.23 440.42 L 419.23 457.28"/>
<path d="M 410.34 355.36 L 433.33 367.62 L 433.33 380.65 M 433.33 385.25 L 433.33 392.91 M 433.33 397.51 L 433.33 426.63 M 433.33 431.23 L 433.33 438.89"/>
<path d="M 420.08 308.39 L 430.8 314.21 M 440.0 319.12 L 446.13 322.49 M 450.73 325.25 L 456.86 328.62 M 459.92 330.61 L 484.44 345.17"/>
<ellipse cx="487.51" cy="349.77" rx="4.29" ry="7.66" transform="rotate(20 487.51 349.77)"/>
<ellipse cx="489.35" cy="350.23" rx="3.68" ry="6.74" transform="rotate(20 489.35 350.23)"/>
<ellipse cx="491.34" cy="350.84" rx="3.07" ry="5.52" transform="rotate(20 491.34 350.84)"/>
<path d="M 492.87 345.48 L 502.84 354.37 M 491.34 356.21 L 501.3 358.97"/>
<ellipse cx="502.84" cy="356.67" rx="1.23" ry="2.3" transform="rotate(20 502.84 356.67)"/>
<path d="M 505.13 357.43 L 512.8 362.03"/>
<path d="M 512.66 374.28 L 512.06 373.57 L 511.85 372.36 L 512.0 370.72 L 512.55 368.84 L 513.43 366.89 L 514.53 365.05 L 515.77 363.53 L 517.01 362.46 L 518.15 361.95 L 519.07 362.05"/>
<path d="M 515.51 375.76 L 514.91 375.07 L 514.68 373.85 L 514.85 372.21 L 515.4 370.32 L 516.26 368.38 L 517.36 366.55 L 518.61 365.02 L 519.86 363.96 L 521.0 363.44 L 521.9 363.53"/>
<path d="M 518.36 377.25 L 517.76 376.56 L 517.53 375.33 L 517.7 373.69 L 518.24 371.81 L 519.11 369.86 L 520.21 368.04 L 521.46 366.51 L 522.7 365.45 L 523.85 364.93 L 524.75 365.03"/>
<path d="M 521.21 378.74 L 520.6 378.05 L 520.38 376.82 L 520.55 375.18 L 521.09 373.3 L 521.96 371.35 L 523.07 369.52 L 524.31 368.01 L 525.55 366.93 L 526.68 366.41 L 527.6 366.52"/>
<path d="M 524.05 380.22 L 523.45 379.53 L 523.22 378.31 L 523.39 376.67 L 523.94 374.78 L 524.8 372.84 L 525.92 371.01 L 527.14 369.49 L 528.4 368.42 L 529.53 367.92 L 530.44 368.01"/>
<path d="M 526.9 381.71 L 526.3 381.02 L 526.07 379.79 L 526.24 378.17 L 526.77 376.28 L 527.65 374.32 L 528.75 372.5 L 529.99 370.98 L 531.25 369.91 L 532.38 369.4 L 533.29 369.49"/>
<path d="M 529.75 383.21 L 529.15 382.51 L 528.92 381.28 L 529.09 379.66 L 529.62 377.77 L 530.5 375.81 L 531.6 373.98 L 532.84 372.47 L 534.08 371.39 L 535.22 370.89 L 536.14 370.98"/>
<path d="M 532.58 384.7 L 531.98 383.99 L 531.77 382.78 L 531.92 381.14 L 532.48 379.26 L 533.35 377.31 L 534.45 375.47 L 535.69 373.95 L 536.93 372.88 L 538.07 372.38 L 538.99 372.47"/>
<path d="M 512.67 374.27 L 532.59 384.69"/>
<path d="M 519.06 362.05 L 538.98 372.47"/>
<ellipse cx="536.55" cy="378.89" rx="2.76" ry="6.9" transform="rotate(27 536.55 378.89)"/>
<ellipse cx="538.08" cy="376.59" rx="1.84" ry="3.07" transform="rotate(27 538.08 376.59)"/>
<ellipse cx="551.57" cy="385.79" rx="5.06" ry="6.9" transform="rotate(20 551.57 385.79)"/>
<path d="M 423.72 333.68 L 445.79 346.55 L 445.79 383.33 L 464.79 393.75"/>
<path d="M 470.61 389.92 L 488.24 399.89 M 465.25 404.48 L 483.64 414.44"/>
<path d="M 470.61 389.92 C 469.66 390.57 466.09 392.1 464.94 393.75 C 463.79 395.41 463.67 398.09 463.72 399.89 C 463.76 401.68 464.99 403.72 465.25 404.48"/>
<path d="M 489.42 400.41 L 489.94 400.9 L 490.26 401.69 L 490.37 402.77 L 490.25 404.07 L 489.91 405.54 L 489.37 407.07 L 488.67 408.64 L 487.82 410.12 L 486.89 411.46 L 485.91 412.59 L 484.93 413.45 L 483.99 414.0 L 483.15 414.21 L 482.46 414.08"/>
<ellipse cx="490.54" cy="409.54" rx="2.61" ry="7.05" transform="rotate(27 490.54 409.54)"/>
<ellipse cx="496.21" cy="412.45" rx="2.61" ry="7.05" transform="rotate(27 496.21 412.45)"/>
<path d="M 488.54 401.11 L 490.84 402.64 M 494.06 404.33 L 496.51 405.56 M 486.4 414.75 L 488.24 415.98 M 492.07 418.12 L 494.06 419.04 M 498.97 406.78 L 505.1 411.07 M 496.21 419.35 L 499.73 423.95"/>
<path d="M 498.86 424.04 L 498.34 423.55 L 498.02 422.75 L 497.91 421.68 L 498.03 420.38 L 498.37 418.9 L 498.9 417.37 L 499.61 415.81 L 500.45 414.32 L 501.39 412.99 L 502.37 411.85 L 503.35 411.0 L 504.28 410.44 L 505.13 410.23 L 505.82 410.37"/>
<path d="M 505.1 411.07 L 525.79 422.87 M 499.73 423.95 L 518.89 437.43"/>
<ellipse cx="522.72" cy="430.08" rx="5.06" ry="7.97" transform="rotate(27 522.72 430.08)"/>
<ellipse cx="522.72" cy="429.77" rx="1.07" ry="1.38"/>
<path d="M 528.08 432.07 L 548.01 444.33"/>
<ellipse cx="551.07" cy="448.16" rx="3.68" ry="7.66" transform="rotate(25 551.07 448.16)"/>
<ellipse cx="553.37" cy="448.93" rx="3.07" ry="6.44" transform="rotate(25 553.37 448.93)"/>
<path d="M 556.13 445.1 L 569.92 452.3 M 554.6 454.14 L 566.86 459.96"/>
<ellipse cx="568.7" cy="456.13" rx="2.61" ry="4.6" transform="rotate(25 568.7 456.13)"/>
<ellipse cx="568.7" cy="456.13" rx="0.92" ry="1.53" transform="rotate(25 568.7 456.13)"/>
<path d="M 571.76 457.36 L 598.58 471.92"/>
<path d="M 538.39 378.31 L 564.44 393.64"/>
<ellipse cx="564.75" cy="397.47" rx="2.15" ry="4.29" transform="rotate(25 564.75 397.47)"/>
<path d="M 565.98 393.33 L 569.04 390.88 L 579.0 392.87 L 584.37 394.87 L 593.56 399.0 Q 597.39 401.3 598.47 405.13"/>
<path d="M 564.44 401.3 L 573.64 410.8 L 584.37 418.16 L 589.73 418.93"/>
<ellipse cx="590.8" cy="408.51" rx="7.36" ry="10.42" transform="rotate(22 590.8 408.51)"/>
<path d="M 569.04 390.88 C 568.66 391.85 566.74 394.45 566.74 396.7 C 566.74 398.96 568.15 402.33 569.04 404.37 C 569.93 406.41 571.6 408.2 572.11 408.97"/>
<path d="M 573.64 391.8 C 573.18 393.0 570.88 396.4 570.88 399.0 C 570.88 401.61 572.54 405.06 573.64 407.43 C 574.74 409.81 576.83 412.29 577.47 413.26"/>
<path d="M 579.0 392.87 C 578.5 394.15 575.94 397.59 575.94 400.54 C 575.94 403.48 577.85 407.82 579.0 410.5 C 580.15 413.18 582.19 415.6 582.84 416.63"/>
<path d="M 582.07 393.95 C 581.56 395.17 579.13 398.42 579.0 401.3 C 578.88 404.18 580.28 408.51 581.3 411.26 C 582.33 414.02 584.49 416.75 585.13 417.85"/>
<ellipse cx="451.11" cy="462.57" rx="3.37" ry="3.37"/>
<ellipse cx="473.64" cy="475.29" rx="2.15" ry="3.07" transform="rotate(20 473.64 475.29)"/>
<ellipse cx="495.1" cy="489.85" rx="2.61" ry="3.37" transform="rotate(20 495.1 489.85)"/>
<path d="M 433.03 443.87 L 433.03 453.07 L 447.59 460.73 M 454.48 464.56 L 471.34 473.75 M 476.7 476.82 L 481.3 479.89 M 485.13 482.95 L 492.03 487.55 M 498.16 491.38 L 503.98 495.21"/>
<path d="M 504.6 492.61 L 519.62 501.34 M 502.76 497.82 L 516.86 507.47"/>
<path d="M 502.51 497.71 L 502.3 497.54 L 502.15 497.23 L 502.07 496.84 L 502.08 496.36 L 502.18 495.82 L 502.33 495.26 L 502.56 494.69 L 502.85 494.15 L 503.19 493.66 L 503.54 493.25 L 503.89 492.93 L 504.25 492.73 L 504.57 492.65 L 504.84 492.71"/>
<path d="M 507.36 494.14 L 505.52 499.35 M 510.73 495.98 L 508.89 501.49 M 514.25 498.12 L 512.26 503.64 M 517.47 500.11 L 515.33 505.79"/>
<ellipse cx="524.21" cy="507.47" rx="4.9" ry="6.9" transform="rotate(25 524.21 507.47)"/>
<ellipse cx="524.52" cy="507.47" rx="1.23" ry="1.53"/>
<path d="M 519.62 501.34 L 525.75 500.88 M 516.86 507.47 L 522.68 514.06"/>
<path d="M 419.54 460.73 L 419.54 509.77 L 439.92 523.56"/>
<ellipse cx="444.44" cy="526.9" rx="4.14" ry="5.36" transform="rotate(20 444.44 526.9)"/>
<path d="M 447.51 523.07 L 465.9 533.03 M 445.98 532.26 L 462.84 541.46"/>
<path d="M 453.16 522.87 L 453.66 523.26 L 453.99 523.92 L 454.16 524.81 L 454.15 525.87 L 453.95 527.07 L 453.59 528.32 L 453.07 529.59 L 452.43 530.8 L 451.71 531.89 L 450.91 532.81 L 450.11 533.5 L 449.32 533.95 L 448.6 534.1 L 447.98 533.99"/>
<path d="M 459.48 526.99 L 459.97 527.37 L 460.31 528.02 L 460.49 528.86 L 460.51 529.89 L 460.34 531.02 L 460.0 532.23 L 459.51 533.43 L 458.9 534.57 L 458.19 535.6 L 457.43 536.46 L 456.64 537.12 L 455.88 537.52 L 455.17 537.67 L 454.54 537.53"/>
<path d="M 463.0 528.83 L 463.49 529.21 L 463.83 529.85 L 464.02 530.7 L 464.03 531.72 L 463.86 532.86 L 463.52 534.07 L 463.03 535.26 L 462.42 536.41 L 461.72 537.44 L 460.95 538.3 L 460.17 538.96 L 459.4 539.36 L 458.7 539.51 L 458.07 539.37"/>
<ellipse cx="465.59" cy="537.16" rx="2.45" ry="4.6" transform="rotate(25 465.59 537.16)"/>
<path d="M 468.97 539.92 L 473.56 542.99"/>
<ellipse cx="476.32" cy="544.52" rx="4.29" ry="5.82" transform="rotate(15 476.32 544.52)"/>
<path d="M 479.69 546.82 L 482.76 548.81"/>
<ellipse cx="492.72" cy="555.25" rx="6.13" ry="7.66" transform="rotate(20 492.72 555.25)"/>
<ellipse cx="492.72" cy="555.25" rx="1.84" ry="2.3"/>
<path d="M 482.76 548.35 L 485.82 545.29 L 491.95 547.28 M 480.46 552.18 L 485.82 559.08 L 489.66 562.15 M 482.76 548.35 L 480.46 552.18"/>
<ellipse cx="485.82" cy="552.18" rx="3.37" ry="6.13" transform="rotate(20 485.82 552.18)"/>
<path d="M 571.42 457.62 L 593.64 469.12"/>
<ellipse cx="600.54" cy="472.95" rx="6.13" ry="8.43" transform="rotate(25 600.54 472.95)"/>
<ellipse cx="601.0" cy="472.95" rx="3.83" ry="5.82" transform="rotate(25 601.0 472.95)"/>
<path d="M 608.43 467.56 L 609.15 468.41 L 609.39 469.92 L 609.15 471.92 L 608.43 474.21 L 607.33 476.57 L 605.92 478.77 L 604.37 480.6 L 602.82 481.87 L 601.41 482.47 L 600.31 482.33"/>
<path d="M 611.49 469.24 L 612.21 470.1 L 612.46 471.6 L 612.21 473.61 L 611.49 475.89 L 610.39 478.25 L 608.98 480.46 L 607.43 482.28 L 605.89 483.56 L 604.48 484.15 L 603.37 484.02"/>
<path d="M 614.56 470.93 L 615.28 471.79 L 615.52 473.29 L 615.28 475.3 L 614.56 477.58 L 613.46 479.94 L 612.05 482.15 L 610.5 483.97 L 608.95 485.24 L 607.54 485.84 L 606.44 485.7"/>
<path d="M 617.62 472.61 L 618.34 473.47 L 618.59 474.97 L 618.34 476.98 L 617.62 479.26 L 616.52 481.62 L 615.11 483.83 L 613.56 485.66 L 612.02 486.93 L 610.61 487.52 L 609.5 487.39"/>
<path d="M 620.69 474.3 L 621.41 475.16 L 621.66 476.66 L 621.41 478.67 L 620.69 480.95 L 619.59 483.31 L 618.18 485.52 L 616.63 487.34 L 615.08 488.61 L 613.67 489.21 L 612.57 489.07"/>
<path d="M 623.75 475.98 L 624.48 476.84 L 624.72 478.34 L 624.48 480.35 L 623.75 482.64 L 622.65 485.0 L 621.24 487.2 L 619.69 489.03 L 618.15 490.3 L 616.74 490.9 L 615.63 490.76"/>
<path d="M 626.82 477.67 L 627.54 478.53 L 627.79 480.03 L 627.54 482.04 L 626.82 484.32 L 625.72 486.68 L 624.31 488.89 L 622.76 490.71 L 621.21 491.98 L 619.8 492.58 L 618.7 492.44"/>
<path d="M 629.89 479.36 L 630.61 480.21 L 630.85 481.72 L 630.61 483.72 L 629.89 486.01 L 628.78 488.37 L 627.37 490.57 L 625.82 492.4 L 624.28 493.67 L 622.87 494.27 L 621.76 494.13"/>
<path d="M 600.31 482.33 L 621.76 494.13"/>
<path d="M 608.43 467.56 L 629.89 479.36"/>
<ellipse cx="638.08" cy="493.95" rx="7.97" ry="11.65" transform="rotate(22 638.08 493.95)"/>
<path d="M 646.82 489.56 C 645.67 490.84 641.33 494.54 639.92 497.22 C 638.52 499.9 638.01 503.22 638.39 505.65 C 638.77 508.08 641.59 510.76 642.22 511.78"/>
<path d="M 652.18 489.18 C 651.03 490.52 646.82 494.48 645.29 497.22 C 643.75 499.97 642.86 502.97 642.99 505.65 C 643.12 508.33 645.54 512.03 646.05 513.31"/>
<path d="M 649.5 489.41 C 648.35 490.71 644.08 494.52 642.61 497.22 C 641.13 499.93 640.44 503.1 640.69 505.65 C 640.94 508.2 643.56 511.4 644.14 512.55"/>
<path d="M 646.82 489.41 L 652.18 489.02 M 642.22 511.78 L 646.05 513.31"/>
<path d="M 652.18 489.02 L 656.78 493.01 L 665.98 493.39 L 672.87 497.61 L 675.33 501.82 L 675.56 509.48 L 672.87 517.91 L 665.98 523.43 L 656.78 521.74 L 646.82 517.91 L 646.05 513.31"/>
<path d="M 656.78 493.01 L 653.72 494.16 L 646.82 505.65 L 656.02 509.48 L 662.91 498.75 L 656.78 493.01 M 662.91 498.75 L 672.87 497.61 M 656.02 509.48 L 656.78 521.74"/>
<path d="M 669.04 502.2 C 671.02 501.69 673.77 501.38 674.79 502.59 C 675.81 503.8 675.56 506.99 675.17 509.48 C 674.79 511.97 674.02 515.36 672.49 517.53 C 670.96 519.7 668.02 522.0 665.98 522.51 C 663.93 523.02 661.36 522.13 660.23 520.59 C 659.1 519.06 658.79 515.8 659.23 513.31 C 659.68 510.82 661.28 507.51 662.91 505.65 C 664.54 503.8 667.07 502.72 669.04 502.2 Z"/>
<path d="M 804.83 103.75 L 804.83 116.78 M 804.83 120.61 L 804.83 130.57 M 804.83 133.64 L 804.83 239.39"/>
<ellipse cx="804.37" cy="146.21" rx="8.43" ry="4.9"/>
<ellipse cx="804.06" cy="171.19" rx="6.44" ry="3.37"/>
<ellipse cx="804.06" cy="171.19" rx="4.6" ry="1.99"/>
<ellipse cx="834.25" cy="168.58" rx="3.37" ry="2.15"/>
<path d="M 835.02 175.02 L 831.95 181.92 L 831.65 190.34 M 835.02 175.02 L 838.08 181.92 L 838.39 190.34"/>
<path d="M 831.95 181.92 Q 835.02 183.45 838.08 181.92 M 831.8 186.51 Q 835.02 188.05 838.24 186.51"/>
<ellipse cx="835.02" cy="192.18" rx="5.82" ry="3.37"/>
<ellipse cx="835.02" cy="191.57" rx="3.68" ry="1.84"/>
<ellipse cx="804.37" cy="194.02" rx="6.13" ry="2.76"/>
<path d="M 807.28 206.48 L 808.9 207.28 L 810.01 208.34 L 810.48 209.56 L 810.28 210.8 L 809.41 211.94 L 807.98 212.84 L 806.13 213.44 L 804.06 213.64 L 801.99 213.44 L 800.14 212.84 L 798.71 211.94 L 797.84 210.8 L 797.64 209.56 L 798.11 208.34 L 799.22 207.28 L 800.84 206.48"/>
<path d="M 806.36 207.82 L 807.52 208.29 L 808.31 208.93 L 808.64 209.66 L 808.51 210.41 L 807.88 211.08 L 806.87 211.63 L 805.53 211.98 L 804.06 212.11 L 802.59 211.98 L 801.26 211.63 L 800.25 211.08 L 799.62 210.41 L 799.48 209.66 L 799.82 208.93 L 800.6 208.29 L 801.76 207.82"/>
<ellipse cx="803.6" cy="225.9" rx="9.2" ry="5.36"/>
<path d="M 841.15 203.68 L 840.86 204.31 L 840.03 204.87 L 838.74 205.33 L 837.12 205.61 L 835.33 205.72 L 833.53 205.61 L 831.91 205.33 L 830.62 204.87 L 829.79 204.31 L 829.5 203.68"/>
<path d="M 841.15 206.45 L 840.86 207.08 L 840.03 207.65 L 838.74 208.11 L 837.12 208.4 L 835.33 208.49 L 833.53 208.4 L 831.91 208.11 L 830.62 207.65 L 829.79 207.08 L 829.5 206.45"/>
<path d="M 841.15 209.23 L 840.86 209.87 L 840.03 210.44 L 838.74 210.88 L 837.12 211.17 L 835.33 211.28 L 833.53 211.17 L 831.91 210.88 L 830.62 210.44 L 829.79 209.87 L 829.5 209.23"/>
<path d="M 841.15 212.02 L 840.86 212.64 L 840.03 213.21 L 838.74 213.66 L 837.12 213.95 L 835.33 214.05 L 833.53 213.95 L 831.91 213.66 L 830.62 213.21 L 829.79 212.64 L 829.5 212.02"/>
<path d="M 841.15 214.79 L 840.86 215.42 L 840.03 215.98 L 838.74 216.44 L 837.12 216.72 L 835.33 216.83 L 833.53 216.72 L 831.91 216.44 L 830.62 215.98 L 829.79 215.42 L 829.5 214.79"/>
<path d="M 841.15 217.56 L 840.86 218.19 L 840.03 218.76 L 838.74 219.22 L 837.12 219.51 L 835.33 219.6 L 833.53 219.51 L 831.91 219.22 L 830.62 218.76 L 829.79 218.19 L 829.5 217.56"/>
<path d="M 841.15 220.35 L 840.86 220.98 L 840.03 221.55 L 838.74 221.99 L 837.12 222.28 L 835.33 222.39 L 833.53 222.28 L 831.91 221.99 L 830.62 221.55 L 829.79 220.98 L 829.5 220.35"/>
<path d="M 841.15 223.13 L 840.86 223.75 L 840.03 224.32 L 838.74 224.77 L 837.12 225.06 L 835.33 225.16 L 833.53 225.06 L 831.91 224.77 L 830.62 224.32 L 829.79 223.75 L 829.5 223.13"/>
<path d="M 841.15 225.9 L 840.86 226.53 L 840.03 227.1 L 838.74 227.56 L 837.12 227.83 L 835.33 227.94 L 833.53 227.83 L 831.91 227.56 L 830.62 227.1 L 829.79 226.53 L 829.5 225.9"/>
<path d="M 829.5 203.68 L 829.5 225.9"/>
<path d="M 841.15 203.68 L 841.15 225.9"/>
<ellipse cx="835.33" cy="203.68" rx="5.82" ry="2.04"/>
<path d="M 835.33 194.48 L 835.33 201.38"/>
<ellipse cx="835.33" cy="235.86" rx="6.13" ry="3.83"/>
<ellipse cx="835.33" cy="235.1" rx="2.76" ry="1.53"/>
<path d="M 829.2 235.86 L 829.2 238.16 Q 835.33 242.76 841.46 238.16 L 841.46 235.86"/>
<ellipse cx="835.79" cy="246.59" rx="3.37" ry="2.3"/>
<ellipse cx="835.79" cy="246.59" rx="1.84" ry="1.23"/>
<ellipse cx="835.79" cy="256.25" rx="6.13" ry="3.37"/>
<path d="M 835.33 228.2 L 835.33 232.03 M 835.79 239.69 L 835.79 244.29 M 835.79 248.89 L 835.79 252.87 M 835.79 259.62 L 835.79 267.28"/>
<ellipse cx="804.67" cy="246.9" rx="6.44" ry="3.37"/>
<ellipse cx="804.67" cy="247.36" rx="3.83" ry="1.84"/>
<path d="M 798.24 246.9 L 798.54 259.92 M 811.11 246.9 L 811.11 259.92"/>
<path d="M 798.54 253.03 Q 804.67 256.09 811.11 253.03"/>
<path d="M 798.54 259.92 Q 804.67 262.99 811.11 259.92"/>
<path d="M 798.54 259.92 L 796.7 276.78 M 811.11 259.92 L 812.34 276.78"/>
<ellipse cx="806.97" cy="256.09" rx="0.92" ry="0.92"/>
<path d="M 796.7 273.72 Q 804.67 277.55 812.34 273.72"/>
<path d="M 796.7 276.78 Q 804.67 280.61 812.34 276.78"/>
<ellipse cx="804.37" cy="282.91" rx="11.65" ry="5.36"/>
<path d="M 792.72 282.91 L 792.41 289.04 L 798.54 293.64 L 808.51 294.1 L 815.4 289.81 L 816.02 283.68 L 816.02 282.91"/>
<path d="M 798.54 287.97 L 798.54 293.64 M 808.51 288.28 L 808.51 294.1"/>
<path d="M 795.48 279.85 Q 804.67 284.44 813.56 279.85"/>
<ellipse cx="836.25" cy="272.18" rx="4.9" ry="2.76"/>
<ellipse cx="836.25" cy="272.49" rx="2.76" ry="1.53"/>
<path d="M 831.34 272.18 L 829.35 278.31 M 841.15 272.18 L 843.14 278.31"/>
<path d="M 829.35 278.31 L 826.74 279.85 L 829.35 284.14 L 834.71 285.98 L 841.61 285.21 L 845.75 280.15 L 843.14 278.31"/>
<path d="M 829.35 278.31 Q 836.25 282.15 843.14 278.31"/>
<path d="M 833.95 274.48 L 833.95 279.85 M 838.54 274.48 L 838.54 279.54"/>
<path d="M 827.05 280.15 Q 836.25 284.75 845.44 280.46"/>
<path d="M 803.6 294.41 L 803.6 325.82 L 837.32 306.67 L 837.32 286.74"/>
<path d="M 873.64 330.42 L 873.64 411.65"/>
<path d="M 873.56 365.33 L 873.56 371.46 M 873.56 374.52 L 873.56 441.95"/>
<ellipse cx="873.26" cy="377.28" rx="8.43" ry="5.06"/>
<ellipse cx="873.87" cy="410.54" rx="6.13" ry="3.68"/>
<ellipse cx="873.87" cy="410.54" rx="4.29" ry="2.15"/>
<ellipse cx="873.56" cy="426.63" rx="5.67" ry="2.76"/>
<path d="M 876.63 437.86 L 878.18 438.66 L 879.23 439.72 L 879.68 440.94 L 879.48 442.18 L 878.67 443.32 L 877.3 444.22 L 875.54 444.82 L 873.56 445.02 L 871.59 444.82 L 869.82 444.22 L 868.46 443.32 L 867.65 442.18 L 867.45 440.94 L 867.89 439.72 L 868.95 438.66 L 870.5 437.86"/>
<path d="M 875.71 439.2 L 876.8 439.67 L 877.53 440.31 L 877.84 441.03 L 877.7 441.79 L 877.13 442.46 L 876.17 443.01 L 874.94 443.36 L 873.56 443.49 L 872.18 443.36 L 870.96 443.01 L 869.99 442.46 L 869.43 441.79 L 869.29 441.03 L 869.59 440.31 L 870.33 439.67 L 871.42 439.2"/>
<ellipse cx="873.41" cy="456.44" rx="8.89" ry="5.36"/>
<path d="M 873.41 445.25 L 873.41 451.38 M 873.41 462.11 L 873.41 471.3"/>
<ellipse cx="873.41" cy="474.37" rx="6.44" ry="3.37"/>
<ellipse cx="873.41" cy="474.83" rx="3.83" ry="1.84"/>
<path d="M 866.97 474.37 L 867.28 487.39 M 879.85 474.37 L 879.85 487.39"/>
<path d="M 867.28 480.5 Q 873.41 483.56 879.85 480.5"/>
<path d="M 867.28 487.39 Q 873.41 490.46 879.85 487.39"/>
<path d="M 867.28 487.39 L 865.44 504.25 M 879.85 487.39 L 881.07 504.25"/>
<ellipse cx="875.71" cy="483.56" rx="0.92" ry="0.92"/>
<path d="M 865.44 501.19 Q 873.41 505.02 881.07 501.19"/>
<path d="M 865.44 504.25 Q 873.41 508.08 881.07 504.25"/>
<ellipse cx="873.1" cy="510.38" rx="11.65" ry="5.36"/>
<path d="M 861.46 510.38 L 861.15 516.51 L 867.28 521.11 L 877.24 521.57 L 884.14 517.28 L 884.75 511.15 L 884.75 510.38"/>
<path d="M 867.28 515.44 L 867.28 521.11 M 877.24 515.75 L 877.24 521.57"/>
<path d="M 864.21 507.32 Q 873.41 511.92 882.3 507.32"/>
<ellipse cx="819.0" cy="419.5" rx="3.68" ry="2.45"/>
<path d="M 819.0 424.56 L 815.94 431.46 L 815.63 439.89 M 819.0 424.56 L 822.07 431.46 L 822.38 439.89"/>
<path d="M 815.94 431.46 Q 819.0 432.99 822.07 431.46 M 815.79 436.05 Q 819.0 437.59 822.22 436.05"/>
<ellipse cx="819.0" cy="441.72" rx="5.82" ry="3.37"/>
<ellipse cx="819.0" cy="441.11" rx="3.68" ry="1.84"/>
<path d="M 824.98 452.91 L 824.69 453.54 L 823.86 454.11 L 822.57 454.57 L 820.95 454.84 L 819.16 454.95 L 817.36 454.84 L 815.74 454.57 L 814.45 454.11 L 813.62 453.54 L 813.33 452.91"/>
<path d="M 824.98 455.89 L 824.69 456.51 L 823.86 457.08 L 822.57 457.52 L 820.95 457.82 L 819.16 457.92 L 817.36 457.82 L 815.74 457.52 L 814.45 457.08 L 813.62 456.51 L 813.33 455.89"/>
<path d="M 824.98 458.86 L 824.69 459.49 L 823.86 460.05 L 822.57 460.5 L 820.95 460.79 L 819.16 460.9 L 817.36 460.79 L 815.74 460.5 L 814.45 460.05 L 813.62 459.49 L 813.33 458.86"/>
<path d="M 824.98 461.82 L 824.69 462.44 L 823.86 463.01 L 822.57 463.47 L 820.95 463.76 L 819.16 463.85 L 817.36 463.76 L 815.74 463.47 L 814.45 463.01 L 813.62 462.44 L 813.33 461.82"/>
<path d="M 824.98 464.79 L 824.69 465.42 L 823.86 465.98 L 822.57 466.44 L 820.95 466.72 L 819.16 466.83 L 817.36 466.72 L 815.74 466.44 L 814.45 465.98 L 813.62 465.42 L 813.33 464.79"/>
<path d="M 824.98 467.76 L 824.69 468.39 L 823.86 468.96 L 822.57 469.4 L 820.95 469.69 L 819.16 469.8 L 817.36 469.69 L 815.74 469.4 L 814.45 468.96 L 813.62 468.39 L 813.33 467.76"/>
<path d="M 824.98 470.72 L 824.69 471.36 L 823.86 471.93 L 822.57 472.38 L 820.95 472.67 L 819.16 472.77 L 817.36 472.67 L 815.74 472.38 L 814.45 471.93 L 813.62 471.36 L 813.33 470.72"/>
<path d="M 824.98 473.69 L 824.69 474.32 L 823.86 474.89 L 822.57 475.35 L 820.95 475.64 L 819.16 475.73 L 817.36 475.64 L 815.74 475.35 L 814.45 474.89 L 813.62 474.32 L 813.33 473.69"/>
<path d="M 824.98 476.67 L 824.69 477.3 L 823.86 477.86 L 822.57 478.32 L 820.95 478.6 L 819.16 478.7 L 817.36 478.6 L 815.74 478.32 L 814.45 477.86 L 813.62 477.3 L 813.33 476.67"/>
<path d="M 813.33 452.91 L 813.33 476.67"/>
<path d="M 824.98 452.91 L 824.98 476.67"/>
<ellipse cx="819.16" cy="452.91" rx="5.82" ry="2.04"/>
<path d="M 819.16 446.02 L 819.16 450.61"/>
<ellipse cx="819.0" cy="485.86" rx="5.82" ry="3.83"/>
<ellipse cx="819.0" cy="485.1" rx="2.76" ry="1.53"/>
<path d="M 813.18 485.86 L 813.18 488.16 Q 819.0 492.76 824.83 488.16 L 824.83 485.86"/>
<ellipse cx="818.24" cy="497.05" rx="3.07" ry="2.76"/>
<ellipse cx="818.24" cy="497.05" rx="1.53" ry="1.38"/>
<ellipse cx="818.7" cy="506.55" rx="5.36" ry="3.37"/>
<path d="M 819.0 478.2 L 819.0 482.03 M 818.54 489.69 L 818.54 494.29 M 818.7 499.81 L 818.7 503.18 M 818.7 509.92 L 818.7 519.58"/>
<ellipse cx="819.0" cy="521.42" rx="4.9" ry="2.76"/>
<ellipse cx="819.0" cy="521.72" rx="2.76" ry="1.53"/>
<path d="M 814.1 521.42 L 812.11 527.55 M 823.91 521.42 L 825.9 527.55"/>
<path d="M 812.11 527.55 L 809.5 529.08 L 812.11 533.37 L 817.47 535.21 L 824.37 534.44 L 828.51 529.39 L 825.9 527.55"/>
<path d="M 812.11 527.55 Q 819.0 531.38 825.9 527.55"/>
<path d="M 816.7 523.72 L 816.7 529.08 M 821.3 523.72 L 821.3 528.77"/>
<path d="M 809.81 529.39 Q 819.0 533.98 828.2 529.69"/>
<path d="M 818.7 535.98 L 818.7 574.29 L 839.69 564.33 M 843.52 562.34 L 848.89 559.89 M 851.95 558.2 L 873.1 545.94 L 873.1 522.95"/>
</g>
<g class="l">
<path d="M 145.75 66.46 L 145.75 94.35"/>
<path d="M 183.75 90.21 L 183.75 118.26"/>
<path d="M 215.02 106.3 L 215.02 133.12"/>
<path d="M 247.51 125.46 L 247.51 152.28"/>
<path d="M 132.49 139.16 L 132.49 166.74"/>
<path d="M 169.27 157.55 L 169.27 185.9"/>
<path d="M 193.79 174.41 L 193.79 200.46"/>
<path d="M 234.1 201.23 L 234.1 229.58"/>
<path d="M 114.25 214.56 L 114.25 240.61"/>
<path d="M 143.22 227.28 L 143.22 255.94"/>
<path d="M 162.84 236.78 L 162.84 265.9"/>
<path d="M 178.47 245.98 L 178.47 275.1"/>
<path d="M 302.91 94.48 L 302.91 122.84"/>
<path d="M 339.16 167.13 L 339.16 196.86"/>
<path d="M 363.22 131.42 L 363.22 158.24"/>
<path d="M 402.3 146.74 L 402.3 175.86"/>
<path d="M 418.85 132.95 L 418.85 162.07"/>
<path d="M 439.23 119.16 L 439.23 147.51"/>
<path d="M 416.55 190.42 L 416.55 218.31"/>
<path d="M 318.87 342.38 L 318.87 361.68"/>
<path d="M 334.19 352.34 L 334.19 361.68"/>
<path d="M 292.72 363.54 L 292.72 390.94"/>
<path d="M 441.07 235.13 L 441.07 262.72"/>
<path d="M 458.24 241.26 L 458.24 268.08"/>
<path d="M 478.93 227.47 L 478.93 255.82"/>
<path d="M 504.21 208.31 L 504.21 235.9"/>
<path d="M 205.48 301.42 L 205.48 330.54"/>
<path d="M 225.4 315.98 L 225.4 342.03"/>
<path d="M 259.12 320.57 L 259.12 332.84"/>
<path d="M 176.97 342.03 L 176.97 368.08"/>
<path d="M 239.2 394.48 L 239.2 422.07"/>
<path d="M 266.48 360.0 L 266.48 387.59"/>
<path d="M 292.84 363.07 L 292.84 391.42"/>
<path d="M 178.05 433.56 L 178.05 459.77"/>
<path d="M 341.38 387.55 L 341.38 415.13"/>
<path d="M 492.41 313.75 L 492.41 342.11"/>
<path d="M 529.2 337.51 L 529.2 362.8"/>
<path d="M 554.18 351.3 L 554.18 378.89"/>
<path d="M 584.06 367.39 L 584.06 397.28"/>
<path d="M 471.07 409.85 L 471.07 435.9"/>
<path d="M 448.81 465.33 L 448.81 493.68"/>
<path d="M 472.87 478.35 L 472.87 507.47"/>
<path d="M 493.56 493.68 L 493.56 521.26"/>
<path d="M 511.49 502.87 L 511.49 531.99"/>
<path d="M 559.16 459.2 L 559.16 485.25"/>
<path d="M 442.91 532.26 L 442.91 559.08"/>
<path d="M 472.8 549.12 L 472.8 577.47"/>
<path d="M 488.89 562.91 L 488.89 591.26"/>
<path d="M 608.66 488.28 L 608.66 515.1"/>
<path d="M 629.66 501.3 L 629.66 528.89"/>
<path d="M 650.04 519.85 L 650.04 548.2"/>
<path d="M 768.35 146.36 L 795.94 146.36"/>
<path d="M 769.89 170.73 L 797.47 170.73"/>
<path d="M 838.08 169.35 L 865.67 169.35"/>
<path d="M 840.38 186.82 L 866.44 186.82"/>
<path d="M 769.89 194.02 L 798.24 194.02"/>
<path d="M 768.35 210.27 L 797.47 210.27"/>
<path d="M 766.82 226.67 L 794.41 226.67"/>
<path d="M 841.15 215.17 L 868.74 215.17"/>
<path d="M 841.15 234.64 L 869.5 234.64"/>
<path d="M 839.62 246.28 L 867.97 246.28"/>
<path d="M 769.12 268.81 L 795.94 268.81"/>
<path d="M 846.51 281.38 L 872.57 281.38"/>
<path d="M 882.76 377.13 L 909.58 377.13"/>
<path d="M 880.46 410.54 L 908.05 410.54"/>
<path d="M 879.69 426.63 L 907.28 426.63"/>
<path d="M 881.23 441.19 L 908.05 441.19"/>
<path d="M 882.61 456.44 L 910.96 456.44"/>
<path d="M 881.84 496.59 L 908.66 496.59"/>
<path d="M 788.35 419.96 L 815.17 419.96"/>
<path d="M 789.12 437.59 L 815.17 437.59"/>
<path d="M 786.05 462.57 L 812.87 462.57"/>
<path d="M 786.05 485.4 L 812.87 485.4"/>
<path d="M 781.46 530.61 L 809.04 530.61"/>
</g>
<g class="t" filter="url(#n)">
<text x="146.97" y="65.58">18</text>
<text x="183.75" y="89.18">23</text>
<text x="213.95" y="105.73">21</text>
<text x="248.74" y="124.58">19</text>
<text x="133.1" y="137.97">16</text>
<text x="168.97" y="156.67">22</text>
<text x="194.56" y="173.22">20</text>
<text x="234.87" y="200.35">17</text>
<text x="114.87" y="253.84">36</text>
<text x="142.45" y="267.32">38</text>
<text x="161.3" y="278.36">37</text>
<text x="178.16" y="286.33">39</text>
<text x="302.61" y="92.84">28</text>
<text x="339.0" y="165.79">13</text>
<text x="362.61" y="129.93">9</text>
<text x="401.53" y="145.25">33</text>
<text x="418.85" y="131.46">29</text>
<text x="439.39" y="117.97">25</text>
<text x="416.86" y="189.54">27</text>
<text x="319.24" y="374.62">A</text>
<text x="336.3" y="374.62">B</text>
<text x="439.39" y="232.72">34</text>
<text x="457.78" y="240.08">33</text>
<text x="478.77" y="226.44">29</text>
<text x="504.37" y="206.36">25</text>
<text x="205.48" y="300.69">35</text>
<text x="226.93" y="315.25">30</text>
<text x="258.35" y="319.85">24</text>
<text x="176.97" y="341.31">40</text>
<text x="238.43" y="435.6">31</text>
<text x="265.56" y="401.27">26</text>
<text x="294.06" y="404.33">32</text>
<text x="177.89" y="472.84">28</text>
<text x="341.07" y="428.36">9</text>
<text x="492.41" y="312.57">19</text>
<text x="528.89" y="335.56">21</text>
<text x="555.1" y="349.66">23</text>
<text x="584.21" y="365.75">18</text>
<text x="470.15" y="450.81">14</text>
<text x="448.05" y="506.29">39</text>
<text x="472.41" y="520.23">37</text>
<text x="493.56" y="533.87">38</text>
<text x="512.72" y="543.68">36</text>
<text x="559.62" y="498.93">17</text>
<text x="443.37" y="573.22">15</text>
<text x="472.49" y="590.39">30</text>
<text x="488.74" y="604.33">35</text>
<text x="607.74" y="529.39">20</text>
<text x="629.35" y="540.58">22</text>
<text x="649.27" y="560.81">16</text>
<text x="805.75" y="101.35">B</text>
<text x="763.3" y="151.77">8</text>
<text x="761.0" y="176.59">10</text>
<text x="876.86" y="175.21">12</text>
<text x="872.11" y="192.99">1</text>
<text x="764.83" y="199.74">7</text>
<text x="759.77" y="215.52">10</text>
<text x="759.46" y="232.23">11</text>
<text x="873.79" y="221.19">6</text>
<text x="874.1" y="239.89">3</text>
<text x="874.1" y="251.54">5</text>
<text x="763.75" y="274.22">2</text>
<text x="879.77" y="287.09">4</text>
<text x="873.03" y="328.78">A</text>
<text x="918.16" y="382.38">8</text>
<text x="920.31" y="414.26">10</text>
<text x="917.55" y="432.03">7</text>
<text x="919.85" y="445.83">10</text>
<text x="921.23" y="461.54">11</text>
<text x="914.02" y="501.69">2</text>
<text x="779.16" y="425.21">12</text>
<text x="782.53" y="441.77">1</text>
<text x="780.08" y="467.67">6</text>
<text x="780.54" y="490.81">3</text>
<text x="775.79" y="535.71">4</text>
</g>
</svg>
</body></html>
